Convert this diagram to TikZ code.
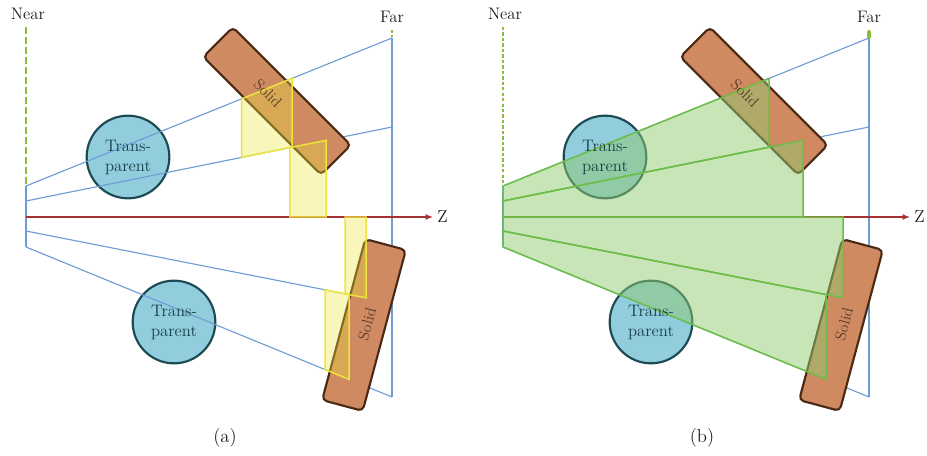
\documentclass[tikz,border=0pt]{standalone}
\usepackage{tikz}
\usepackage{xcolor}
\usetikzlibrary{arrows.meta,calc,positioning}
\definecolor{fzBlue}{RGB}{112,156,212}
\definecolor{fzRed}{RGB}{165,50,50}
\definecolor{fzLime}{RGB}{140,188,62}
\definecolor{fzCyan}{RGB}{146,205,222}
\definecolor{fzTeal}{RGB}{27,74,82}
\definecolor{fzClay}{RGB}{207,138,98}
\definecolor{fzBark}{RGB}{74,42,20}
\definecolor{fzLemon}{RGB}{235,228,60}
\definecolor{fzLemonLine}{RGB}{237,229,58}
\definecolor{fzLeaf}{RGB}{145,203,112}
\definecolor{fzLeafLine}{RGB}{108,190,70}
\definecolor{fzInk}{RGB}{30,30,30}
\tikzset{
  rayline/.style={draw=fzBlue,line width=0.85pt},
  axisline/.style={draw=fzRed,line width=1pt,-{Latex[length=5.5pt,width=4.5pt]}},
  glassball/.style={circle,minimum size=62pt,inner sep=0pt,fill=fzCyan,draw=fzTeal,
    line width=1.6pt},
  balltext/.style={align=center,text=fzTeal!85!black,inner sep=0pt,
    font=\fontsize{12.5}{15}\selectfont},
  solidbar/.style={rectangle,minimum width=125pt,minimum height=31.5pt,inner sep=0pt,
    rounded corners=3.5pt,fill=fzClay,draw=fzBark,line width=1.6pt},
  solidtext/.style={text=fzBark!80!gray,font=\fontsize{11.5}{13}\selectfont,inner sep=0pt},
  planelabel/.style={text=fzInk,font=\fontsize{12.5}{14}\selectfont,inner sep=0pt},
  lemonpatch/.style={fill=fzLemon,fill opacity=0.35,draw=fzLemonLine,line width=1.1pt},
  leafpatch/.style={fill=fzLeaf,fill opacity=0.5,draw=fzLeafLine,line width=1.1pt},
}
% shared scene: frustum, balls, bars
\newcommand{\frustumscene}{%
  \coordinate (n1) at (26,186);
  \coordinate (n2) at (26,201);
  \coordinate (n0) at (26,217);
  \coordinate (n3) at (26,231);
  \coordinate (n4) at (26,247);
  \coordinate (f1) at (392,38);
  \coordinate (f2) at (392,127);
  \coordinate (f0) at (392,217);
  \coordinate (f3) at (392,303);
  \coordinate (f4) at (392,397);
  \coordinate (zend) at (433,217);
  \node[glassball] (g1) at (128,157) {};
  \node[glassball] (g2) at (174,322) {};
  \draw[rayline] (n1) -- (f1);
  \draw[rayline] (n2) -- (f2);
  \draw[rayline] (n3) -- (f3);
  \draw[rayline] (n4) -- (f4);
  \draw[rayline] (n1) -- (n4);
  \draw[rayline] (f1) -- (f4);
  \draw[axisline] (n0) -- (zend);
  \node[solidbar,rotate=-45] (s1) at (277,101) {};
  \node[solidbar,rotate=75] (s2) at (364,325) {};
}
% texts on top of everything
\newcommand{\frustumtexts}{%
  \node[balltext] (g1t) at (g1) {Trans-\\parent};
  \node[balltext] (g2t) at (g2) {Trans-\\parent};
  \node[solidtext,rotate=-45] (s1t) at (268,93) {Solid};
  \node[solidtext,rotate=75] (s2t) at (367,324) {Solid};
  \node[planelabel,font=\fontsize{13}{15}\selectfont,right=3pt of zend] (zlab) {Z};
  \node[planelabel] (nearlab) at (28,14) {Near};
  \node[planelabel] (farlab) at (392,17) {Far};
}

\begin{document}
\begin{tikzpicture}[x=0.75pt,y=-0.75pt]
  \useasboundingbox (0,0) rectangle (927,456);
  % (a) fragments between the two surfaces
  \begin{scope}[name prefix=a-]
    \frustumscene
    \coordinate (neartop) at (26,27);
    \coordinate (fartop) at (392,30);
    \draw[fzLime,line width=1.1pt,dash pattern=on 5pt off 2.5pt] (neartop) -- (n1);
    \draw[fzLime,line width=1.1pt,dash pattern=on 2pt off 1.5pt] (fartop) -- (f1);
    \foreach \u/\v/\s/\t in {1/2/.589/.727, 2/0/.721/.820, 0/3/.872/.929, 3/4/.817/.883}
      \draw[lemonpatch] ($(n\u)!\s!(f\u)$) -- ($(n\u)!\t!(f\u)$)
        -- ($(n\v)!\t!(f\v)$) -- ($(n\v)!\s!(f\v)$) -- cycle;
    \frustumtexts
    \node[planelabel,font=\fontsize{14}{16}\selectfont] (cap) at (225,438) {(a)};
  \end{scope}
  % (b) slabs from the near plane
  \begin{scope}[name prefix=b-,shift={(477,0)}]
    \frustumscene
    \coordinate (neartop) at (26,27);
    \coordinate (fartop) at (392,32);
    \draw[fzLime,line width=1.5pt,dash pattern=on 2.5pt off 1.6pt] (neartop) -- (n1);
    \draw[fzLime,line width=3pt,line cap=round] (fartop) -- ($(f1)+(0,-1)$);
    \foreach \u/\v/\t in {1/2/.727, 2/0/.820, 0/3/.929, 3/4/.883}
      \draw[leafpatch] (n\u) -- ($(n\u)!\t!(f\u)$) -- ($(n\v)!\t!(f\v)$) -- (n\v) -- cycle;
    \frustumtexts
    \node[planelabel,font=\fontsize{14}{16}\selectfont] (cap) at (225,438) {(b)};
  \end{scope}
\end{tikzpicture}
\end{document}
